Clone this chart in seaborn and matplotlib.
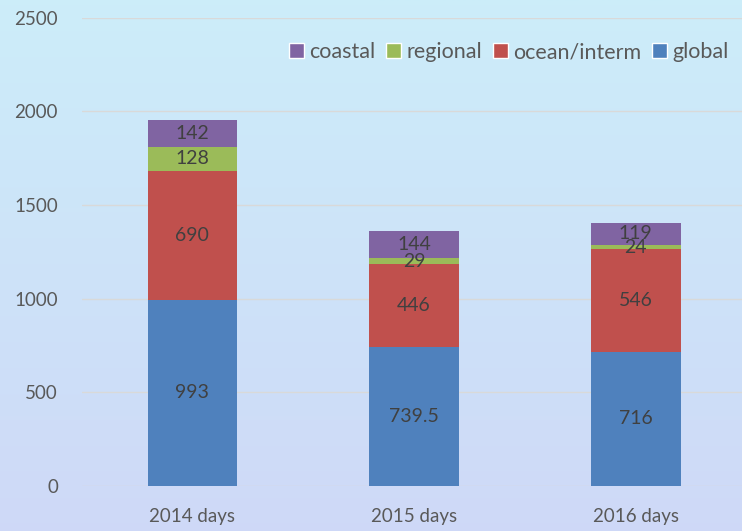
import numpy as np
import pandas as pd
import seaborn as sns
import matplotlib.pyplot as plt
from matplotlib.patches import Patch

years = ["2014 days", "2015 days", "2016 days"]
global_days = [993, 739.5, 716]
ocean_days = [690, 446, 546]
regional_days = [128, 29, 24]
coastal_days = [142, 144, 119]

series = ["global", "ocean/interm", "regional", "coastal"]
values = [global_days, ocean_days, regional_days, coastal_days]
colors = ["#4f81bd", "#c0504d", "#9bbb59", "#8064a2"]

sns.set_style("white")
plt.rcParams['font.family'] = ['Lato', 'DejaVu Sans']

fig = plt.figure(figsize=(7.42, 5.31), dpi=100)

# light blue gradient background
bg = fig.add_axes([0, 0, 1, 1], zorder=0)
grad = np.linspace(0, 1, 256).reshape(-1, 1)
top = np.array([0.80, 0.93, 0.98])
bot = np.array([0.81, 0.85, 0.97])
img = top + (bot - top) * grad[:, :, None]
bg.imshow(img, aspect="auto", extent=[0, 1, 0, 1])
bg.axis("off")

ax = fig.add_axes([0.11, 0.085, 0.89, 0.882], zorder=1)
ax.patch.set_alpha(0)

bottom = np.zeros(len(years))
for name, vals, col in zip(series, values, colors):
    df = pd.DataFrame({"year": years, "days": vals})
    sns.barplot(data=df, x="year", y="days", color=col, width=0.405,
                bottom=bottom, ax=ax, saturation=1, zorder=3, linewidth=0)
    for i, v in enumerate(vals):
        label = f"{v:g}"
        ax.text(i, bottom[i] + v / 2, label, ha="center", va="center",
                fontsize=14, color="#404040", zorder=4)
    bottom = bottom + np.array(vals)

ax.set_ylim(0, 2500)
ax.set_xlim(-0.5, 2.48)
ax.set_yticks(range(0, 2501, 500))
ax.yaxis.grid(True, color="#d9d9d9", linewidth=1, zorder=0)
ax.set_axisbelow(True)
ax.set_xlabel("")
ax.set_ylabel("")
ax.tick_params(axis="both", length=0, labelsize=13.5, labelcolor="#595959")
ax.tick_params(axis="x", pad=16)
ax.tick_params(axis="y", pad=17)
for s in ax.spines.values():
    s.set_visible(False)

handles = [Patch(facecolor=c, label=n) for n, c in zip(series[::-1], colors[::-1])]
ax.legend(handles=handles, loc="upper right", ncol=4, frameon=False,
          bbox_to_anchor=(1.0, 0.975), handlelength=0.7, handleheight=0.7,
          handletextpad=0.25, columnspacing=0.5, fontsize=15.5,
          labelcolor="#595959", borderaxespad=0.2)

fig.savefig("out.png", dpi=100)
